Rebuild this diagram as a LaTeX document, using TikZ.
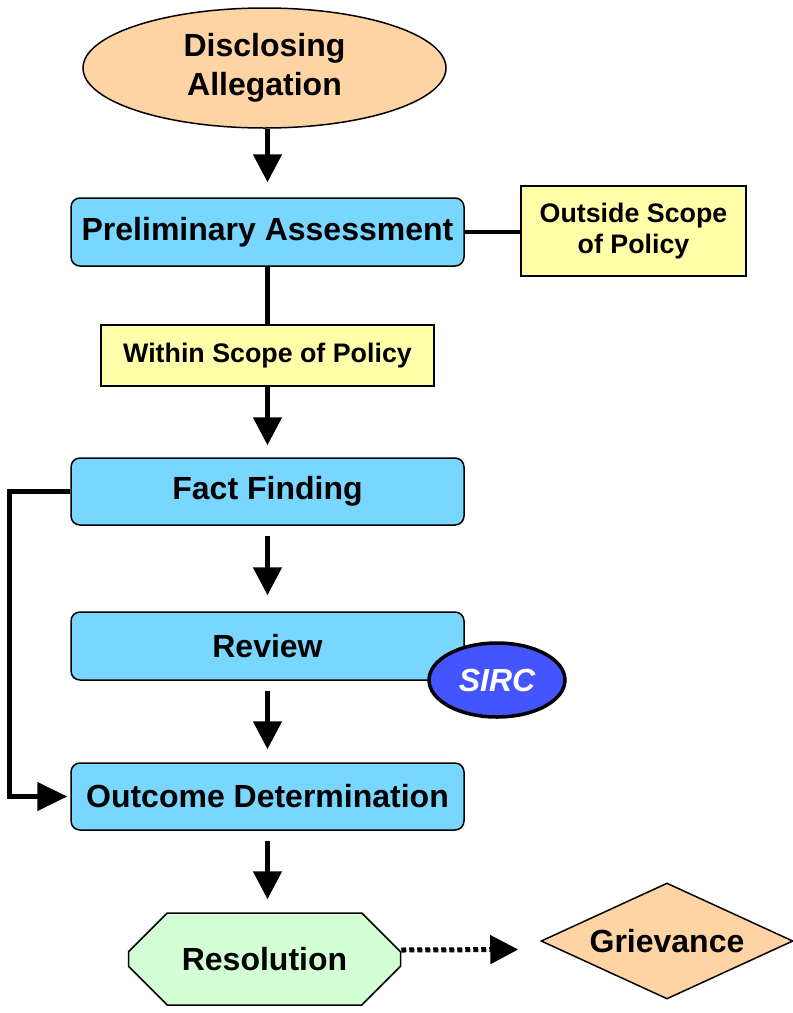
\documentclass[tikz,border=0pt]{standalone}
\usepackage{fontspec}
\setmainfont{Liberation Sans}
\usetikzlibrary{arrows.meta,shapes.geometric,shapes.misc}
\definecolor{peach}{RGB}{255,212,165}
\definecolor{boxblue}{RGB}{120,214,255}
\definecolor{scopeyellow}{RGB}{255,255,170}
\definecolor{resgreen}{RGB}{210,255,212}
\definecolor{sircblue}{RGB}{68,84,255}
\begin{document}
\begin{tikzpicture}[x=1pt,y=-1pt,
  bigtxt/.style={font=\fontsize{32}{39}\selectfont\bfseries},
  smalltxt/.style={font=\fontsize{26.8}{31.5}\selectfont\bfseries},
  procbox/.style={draw, line width=1.5pt, rounded corners=9pt, fill=boxblue,
    minimum width=393pt, minimum height=68pt, inner sep=0pt, bigtxt},
  scopebox/.style={draw, line width=1.2pt, fill=scopeyellow, inner sep=0pt,
    smalltxt, align=center},
  flow/.style={line width=5pt, -{Triangle[length=28pt,width=28pt]}},
  dotflow/.style={line width=5pt, dash pattern=on 5pt off 3pt,
    -{Triangle[length=28pt,width=28pt]}},
  link/.style={line width=4.5pt},
]
\useasboundingbox (0,0) rectangle (793,1013);

\node[ellipse, draw, line width=1.5pt, fill=peach, minimum width=363pt,
  minimum height=120pt, inner sep=0pt, bigtxt, align=center]
  (dis) at (264.5,68) {Disclosing\\Allegation};

\node[procbox] (pa) at (267.5,232) {Preliminary Assessment};
\node[scopebox, minimum width=225pt, minimum height=90pt] (out) at (633.5,231)
  {Outside Scope\\of Policy};
\node[scopebox, minimum width=333pt, minimum height=61pt] (within) at (267.5,355.5)
  {Within Scope of Policy};
\node[procbox, minimum height=67pt] (ff) at (267.5,491.5) {Fact Finding};
\node[procbox] (rev) at (267.5,646) {Review};
\node[ellipse, draw, line width=3.5pt, fill=sircblue, text=white,
  minimum width=136pt, minimum height=74pt, inner sep=0pt,
  font=\fontsize{32}{38}\selectfont\bfseries\itshape]
  (sirc) at (497,680) {SIRC};
\node[procbox, minimum height=67pt] (od) at (267.5,796.5) {Outcome Determination};

\node[chamfered rectangle, chamfered rectangle xsep=27pt, chamfered rectangle ysep=27pt,
  draw, line width=1.5pt, fill=resgreen, minimum width=272pt, minimum height=92pt,
  inner sep=0pt, bigtxt] (res) at (264.5,959) {Resolution};
\node[diamond, draw, line width=1.5pt, fill=peach, aspect=2.17,
  minimum width=252pt, minimum height=116pt, inner sep=0pt, bigtxt]
  (grv) at (667,941) {Grievance};

\draw[flow, shorten >=15pt] (dis.south -| pa.north) -- (pa.north);
\draw[link] (pa.east) -- (pa.east -| out.west);
\draw[link, line width=5pt] (pa.south) -- (within.north);
\draw[flow, shorten >=12pt] (within.south) -- (ff.north);
\draw[flow, shorten <=10pt, shorten >=16pt] (ff.south) -- (rev.north);
\draw[flow, shorten <=10pt, shorten >=13pt] (rev.south) -- (od.north);
\draw[flow, shorten <=10pt, shorten >=13pt] (od.south) -- (od.south |- res.north);
\draw[link, -{Triangle[length=30pt,width=28pt]}, shorten >=3pt]
  (ff.west) -- ++(-61,0) |- (od.west);
\draw[dotflow] ([yshift=9pt]res.east) -- ([xshift=-22pt,yshift=-8.5pt]grv.west);
\end{tikzpicture}
\end{document}
